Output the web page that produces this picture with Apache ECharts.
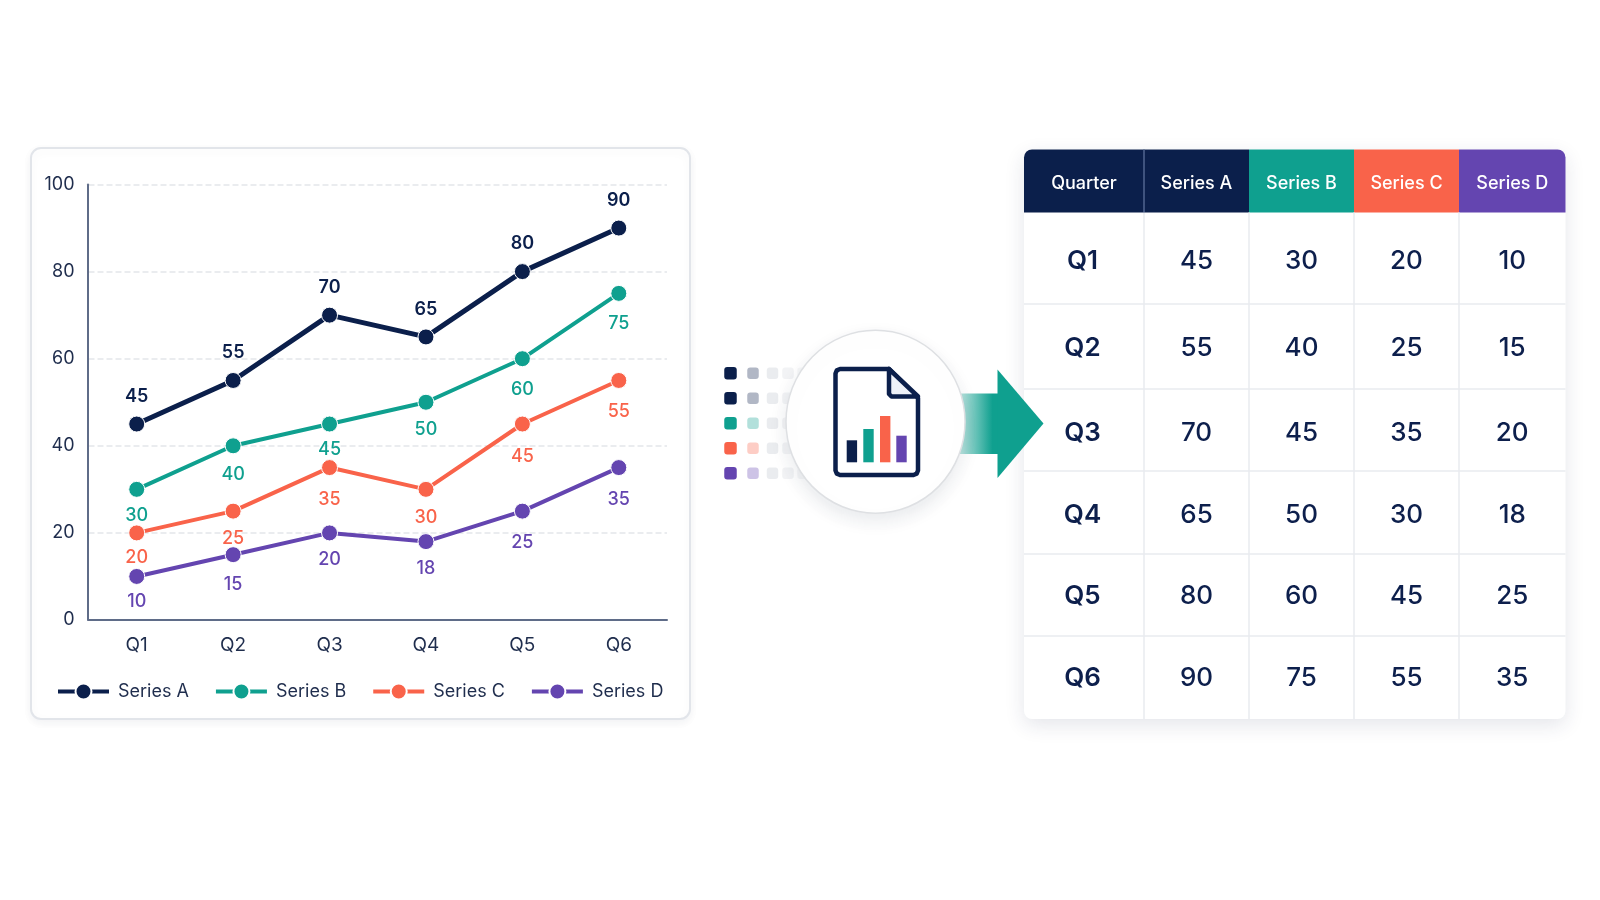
<!DOCTYPE html>
<html>
<head>
<meta charset="utf-8">
<style>html,body{margin:0;padding:0;background:#fff}#c{width:1600px;height:900px}</style>
<script src="https://cdn.jsdelivr.net/npm/echarts@6/dist/echarts.min.js"></script>
</head>
<body>
<div id="c"></div>
<script>
const categories = ['Q1','Q2','Q3','Q4','Q5','Q6'];
const seriesNames = ['Series A','Series B','Series C','Series D'];
const seriesA = [45,55,70,65,80,90];
const seriesB = [30,40,45,50,60,75];
const seriesC = [20,25,35,30,45,55];
const seriesD = [10,15,20,18,25,35];
const colors = ['#0B1F4B','#0FA08F','#F9634A','#6445B0'];
const tableFirstHeader = 'Quarter';

const font = 'Inter';
const ink = '#0D1F4C';
const allSeries = [seriesA,seriesB,seriesC,seriesD];
// gap between each point and its value label
const labelGaps = [
  [10,10,10,10,11,10],
  [9,11,8,10,13,13],
  [7,10,15,11,15,14],
  [8,12,9,9,14,15]
];

// table layout
const colX = [1024,1144,1249,1354,1459,1565.5];
const rowY = [149.5,212.5,304,389,471,554,636,719];
const rowTextY = [261,348.5,433,515,596.5,678];
const g = [];

// chart card
g.push({type:'rect',z:-5,shape:{x:31,y:148,width:659,height:571,r:10},
  style:{fill:'#fff',stroke:'#E2E5EA',lineWidth:2,shadowBlur:8,shadowColor:'rgba(30,45,80,0.06)',shadowOffsetY:3}});

// table body
g.push({type:'rect',z:-5,shape:{x:colX[0],y:rowY[0],width:colX[5]-colX[0],height:rowY[7]-rowY[0],r:8},
  style:{fill:'#fff',shadowBlur:20,shadowColor:'rgba(30,45,80,0.12)',shadowOffsetY:6}});
// header cells
const headColors = [colors[0],colors[0],colors[1],colors[2],colors[3]];
const headText = [tableFirstHeader].concat(seriesNames);
headColors.forEach((c,i)=>{
  const r = i===0?[8,0,0,0]:i===4?[0,8,0,0]:0;
  g.push({type:'rect',z:-4,shape:{x:colX[i],y:rowY[0],width:colX[i+1]-colX[i],height:rowY[1]-rowY[0],r:r},style:{fill:c}});
  g.push({type:'text',z:-3,style:{x:(colX[i]+colX[i+1])/2,y:(rowY[0]+rowY[1])/2+3,text:headText[i],fill:'#fff',
    font:'500 18px '+font,textAlign:'center',textVerticalAlign:'middle'}});
});
g.push({type:'line',z:-3,shape:{x1:colX[1],y1:rowY[0],x2:colX[1],y2:rowY[1]},style:{stroke:'#52668F',lineWidth:1.5}});
// grid lines
for(let i=2;i<7;i++) g.push({type:'line',z:-4,shape:{x1:colX[0],y1:rowY[i],x2:colX[5],y2:rowY[i]},style:{stroke:'#E9EBEF',lineWidth:1.5}});
for(let i=1;i<5;i++) g.push({type:'line',z:-4,shape:{x1:colX[i],y1:rowY[1],x2:colX[i],y2:rowY[7]},style:{stroke:'#E9EBEF',lineWidth:1.5}});
// cells
categories.forEach((q,r)=>{
  const y=rowTextY[r];
  g.push({type:'text',z:-3,style:{x:(colX[0]+colX[1])/2-1.5,y:y,text:q,fill:ink,font:'600 26px '+font,textAlign:'center',textVerticalAlign:'middle'}});
  allSeries.forEach((s,c)=>{
    g.push({type:'text',z:-3,style:{x:(colX[c+1]+colX[c+2])/2,y:y,text:String(s[r]),fill:ink,font:'500 26px '+font,textAlign:'center',textVerticalAlign:'middle'}});
  });
});

// dots fading to the icon
const dotColors=[colors[0],colors[0],colors[1],colors[2],colors[3]];
const dotRows=[373.3,398.3,423.3,448.3,473.3];
const dotCols=[730.5,753,772.5,788,803];
const dotOp=[1,0.32,0.12,0.08,0.05];
dotRows.forEach((y,r)=>dotCols.forEach((x,c)=>{
  const s=c===0?12.5:11.5;
  g.push({type:'rect',z:-2,shape:{x:x-s/2,y:y-s/2,width:s,height:s,r:3},
    style:{fill:c<2?dotColors[r]:'#55607A',opacity:dotOp[c]}});
}));

// arrow
g.push({type:'rect',z:-1,shape:{x:950,y:393.5,width:50,height:60.5},
  style:{fill:new echarts.graphic.LinearGradient(0,0,1,0,[{offset:0,color:'rgba(15,160,143,0.05)'},{offset:0.35,color:'rgba(15,160,143,0.45)'},{offset:0.85,color:'rgba(15,160,143,1)'},{offset:1,color:'rgba(15,160,143,1)'}])}});
g.push({type:'polygon',z:-1,shape:{points:[[997.5,369.5],[1043.5,423.5],[997.5,478]]},style:{fill:colors[1]}});

// circle & document icon
g.push({type:'circle',z:0,shape:{cx:0,cy:0,r:89.5},x:875.5,y:421.7,scaleY:1.022,
  style:{fill:'#fff',stroke:'#DEE0E3',lineWidth:1.5,shadowBlur:18,shadowColor:'rgba(30,45,80,0.10)',shadowOffsetY:7}});
g.push({type:'polygon',z:1,shape:{points:[[840,369],[889,369],[918,398],[918,470.5],[916.7,473.7],[913.5,475],[840,475],[836.8,473.7],[835.5,470.5],[835.5,373.5],[836.8,370.3]]},
  style:{fill:'#fff',stroke:colors[0],lineWidth:4.5,lineJoin:'round'}});
g.push({type:'polygon',z:1,shape:{points:[[889,369],[889,394],[891.5,396.5],[918,396.5]]},
  style:{fill:'#EEF1F8',stroke:colors[0],lineWidth:4.5,lineJoin:'round'}});
[[846.7,440.3,colors[0]],[863.3,429,colors[1]],[880,416,colors[2]],[896.3,435.7,colors[3]]].forEach(b=>{
  g.push({type:'rect',z:1,shape:{x:b[0],y:b[1],width:10.4,height:462.3-b[1]},style:{fill:b[2]}});
});

const mkSeries = (name,data,i)=>({
  name:name,type:'line',
  data:data.map((v,k)=>({value:v,label:{distance:labelGaps[i][k]}})),
  symbol:'circle',symbolSize:16,showSymbol:true,
  itemStyle:{color:colors[i],borderColor:'#fff',borderWidth:1},
  lineStyle:{color:colors[i],width:i===0?5:4},
  label:{show:true,position:i===0?'top':'bottom',color:colors[i],
    fontFamily:font,fontSize:18,fontWeight:i===0?600:500},
  emphasis:{disabled:true}
});

const chart = echarts.init(document.getElementById('c'),null,{renderer:'canvas'});
chart.setOption({
  animation:false,
  backgroundColor:'#fff',
  textStyle:{fontFamily:font},
  grid:{left:88.5,top:184.5,width:578.5,height:435.5,containLabel:false},
  legend:{left:56,top:682.5,padding:0,itemWidth:51,itemHeight:20,itemGap:25,
    data:seriesNames,
    itemStyle:{borderColor:'#fff',borderWidth:2},
    lineStyle:{width:4},
    textStyle:{fontFamily:font,fontSize:18,color:'#1F2D4D',padding:[0,0,0,4]}},
  tooltip:{show:false},
  xAxis:{type:'category',data:categories,boundaryGap:true,
    axisLine:{lineStyle:{color:'#5F6C88',width:2}},axisTick:{show:false},
    axisLabel:{fontFamily:font,fontSize:19,color:'#1F2D4D',margin:16}},
  yAxis:{type:'value',min:0,max:100,interval:20,offset:1,
    axisLine:{show:true,lineStyle:{color:'#5F6C88',width:2}},axisTick:{show:false},
    axisLabel:{fontFamily:font,fontSize:18,color:'#1F2D4D',margin:13,padding:[4,0,0,0]},
    splitLine:{show:true,lineStyle:{color:'#E3E6EA',type:'dashed',width:1.5}}},
  series:seriesNames.map((n,i)=>mkSeries(n,allSeries[i],i)),
  graphic:{elements:g}
});
</script>
</body>
</html>
